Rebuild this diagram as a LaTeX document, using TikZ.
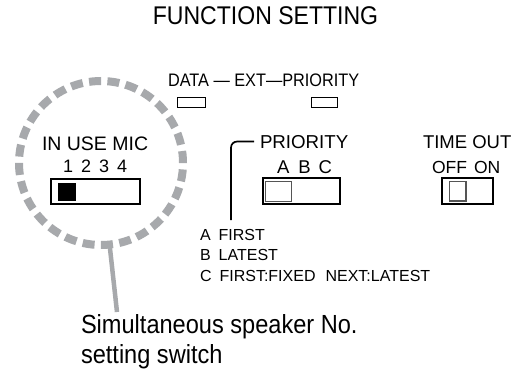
\documentclass[tikz,border=0pt]{standalone}
\usepackage{fontspec}
\setmainfont{Liberation Sans}
\newfontfamily\tallfont[FakeStretch=0.9]{Liberation Sans}
\usetikzlibrary{positioning}
\definecolor{ringgray}{RGB}{167,169,172}
\definecolor{knobgray}{RGB}{85,85,85}
\newcommand{\fs}[1]{\fontsize{#1}{#1}\selectfont}
\newcommand{\panelsetup}{
    \coordinate (mic0) at (51,179);
    \coordinate (mic1) at (140,204);
    \coordinate (pri0) at (263,178);
    \coordinate (pri1) at (340,204);
    \coordinate (tmo0) at (442,178);
    \coordinate (tmo1) at (493,204);
}
\tikzset{
    lbl/.style={anchor=base west, inner sep=0pt, outer sep=0pt},
    led/.style={draw, line width=0.9pt},
    swbox/.style={draw, line width=1.2pt},
    knob/.style={draw=knobgray, line width=1.2pt},
    bracket/.style={line width=1.7pt, rounded corners=6pt},
}

\begin{document}
\begin{tikzpicture}[x=1pt,y=-1pt]
    \useasboundingbox (0,0) rectangle (526,369);
    \panelsetup;

    \node[lbl, anchor=base, font=\tallfont\fs{25.6}] (title) at (265.5,25) {FUNCTION SETTING};
    \node[lbl, font=\tallfont\fs{18.1}] (mode) at (168,86) {DATA — EXT—PRIORITY};
    \draw[led] (177,97) rectangle (205,107);
    \draw[led] (311,97) rectangle (337,107);

    % mic count switch
    \node[draw=ringgray, circle, minimum size=164pt, inner sep=0pt, outer sep=0pt,
          line width=8pt, dash pattern=on 12pt off 6.4pt] (ring) at (101,163) {};
    \node[lbl, font=\fs{19.5}] (mic) at (42,150) {IN USE MIC};
    \node[lbl, font=\fs{18}] (micnum) at (63,172) {1\hspace{8pt}2\hspace{8pt}3\hspace{8pt}4};
    \draw[swbox] (mic0) rectangle (mic1);
    \fill (58,183) rectangle (76,201);

    % priority switch
    \node[lbl, font=\fs{18.7}] (pri) at (260,148) {PRIORITY};
    \node[lbl, font=\fs{18.5}] (prinum) at (277,173) {A\hspace{9pt}B\hspace{8pt}C};
    \draw[swbox] (pri0) rectangle (pri1);
    \draw[knob] (265.5,181.5) rectangle (291.5,201.5);
    \coordinate (brkfoot) at (231,220);
    \draw[bracket] (brkfoot) |- ([xshift=-6pt]pri.west);

    % time out switch
    \node[lbl, font=\fs{18.5}] (tmo) at (423,148) {TIME OUT};
    \node[lbl, font=\fs{17.5}] (tmonum) at (432,173) {OFF\hspace{7pt}ON};
    \draw[swbox] (tmo0) rectangle (tmo1);
    \draw[knob] (449.5,181.5) rectangle (466,201);

    \node[lbl, font=\fs{16}] (modea) at (200,240) {A\hspace{8pt}FIRST};
    \node[lbl, font=\fs{16}] (modeb) at (200,260.5) {B\hspace{8pt}LATEST};
    \node[lbl, font=\fs{16}] (modec) at (200,281) {C\hspace{8pt}FIRST:FIXED\hspace{10pt}NEXT:LATEST};

    \node[lbl, font=\tallfont\fs{26.2}] (note1) at (81,333) {Simultaneous speaker No.};
    \node[lbl, font=\tallfont\fs{26.2}] (note2) at (81,363) {setting switch};
    \coordinate (leadend) at (117,312);
    \draw[ringgray, line width=4.5pt] (ring.-84) -- (leadend);
\end{tikzpicture}
\end{document}
